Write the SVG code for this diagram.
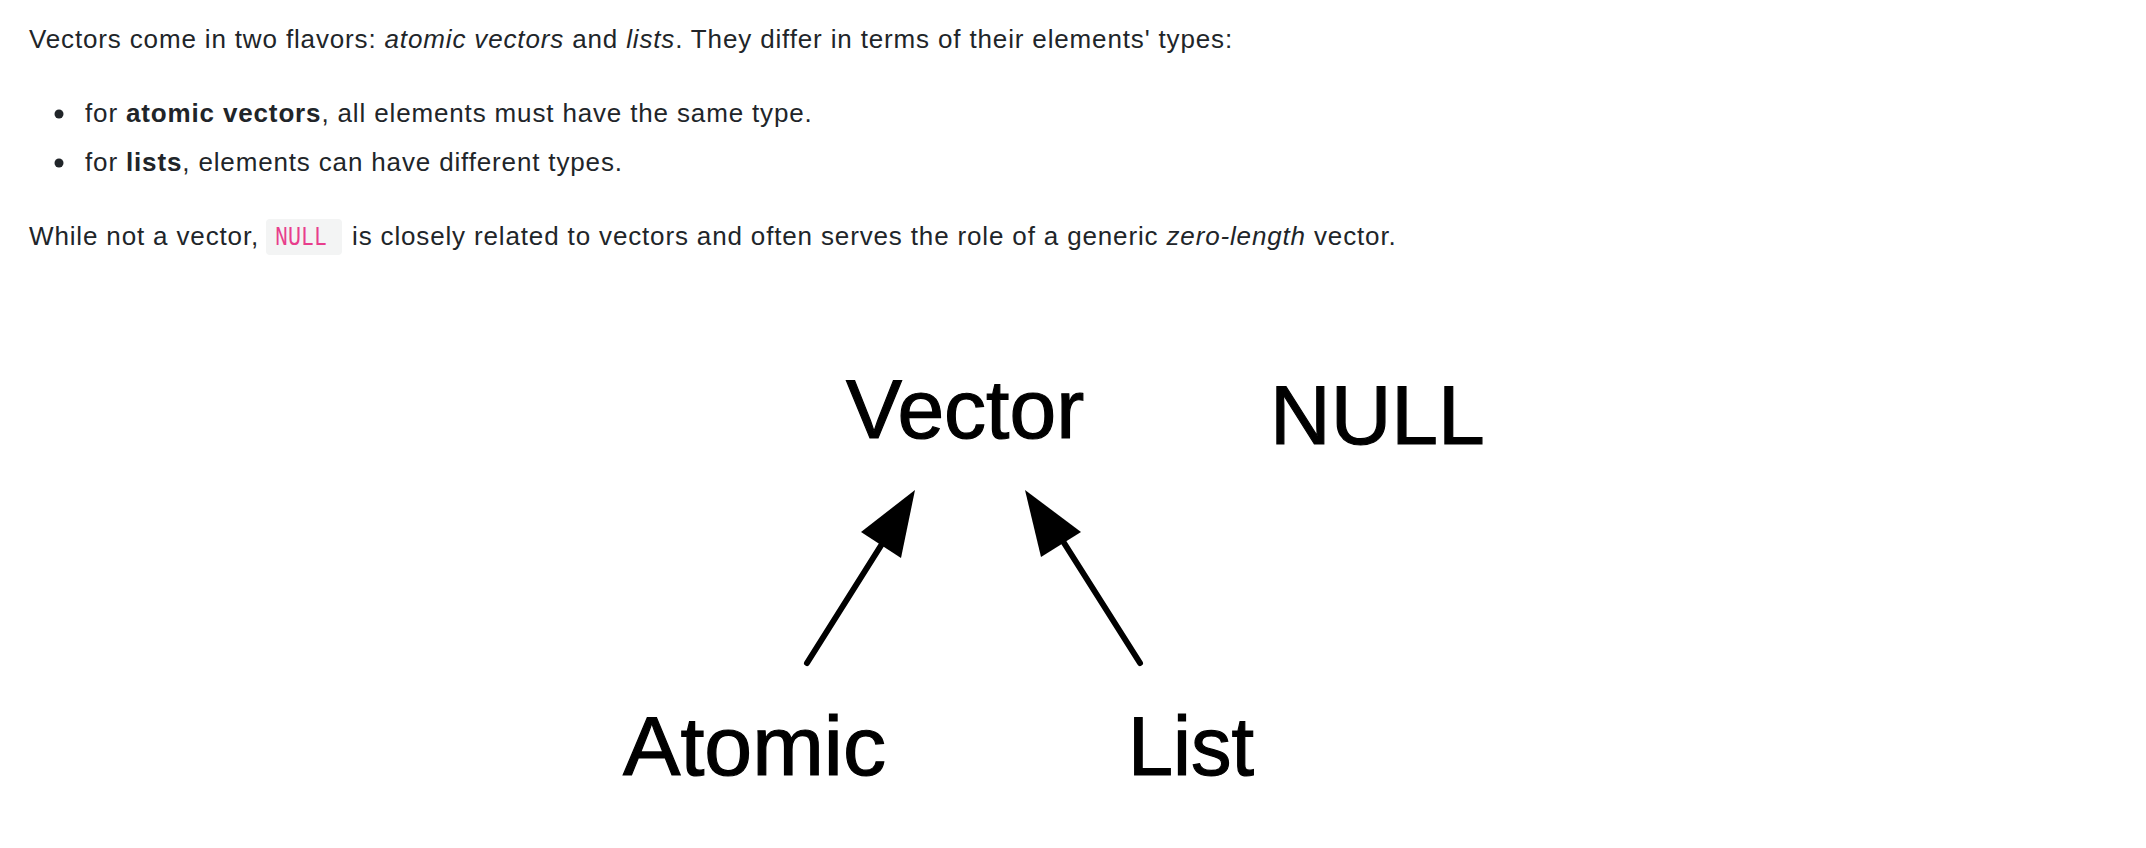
<svg xmlns="http://www.w3.org/2000/svg" width="2146" height="848" viewBox="0 0 2146 848">
<style>
.body{font-family:"Liberation Sans",Arial,sans-serif;font-size:26px;letter-spacing:0.85px;fill:#212529}
.b{font-weight:bold}
.i{font-style:italic}
.code{font-family:"Liberation Mono","DejaVu Sans Mono",monospace;font-size:27px;fill:#e83e8c}
.lbl{font-family:"Liberation Sans",Arial,sans-serif;font-size:84px;fill:#000;stroke:#000;stroke-width:1.2px}
.edge{stroke:#000;stroke-width:6;stroke-linecap:round;fill:none}
.head{fill:#000}
</style>
<rect width="2146" height="848" fill="#fff"/>
<g id="prose">
<text class="body" x="29" y="48">Vectors come in two flavors: <tspan class="i">atomic vectors</tspan> and <tspan class="i">lists</tspan>. They differ in terms of their elements' types:</text>
<circle cx="59" cy="114" r="4.5" fill="#212529"/>
<text class="body" x="85" y="122">for <tspan class="b">atomic vectors</tspan>, all elements must have the same type.</text>
<circle cx="59" cy="163" r="4.5" fill="#212529"/>
<text class="body" x="85" y="171">for <tspan class="b">lists</tspan>, elements can have different types.</text>
<text class="body" x="29" y="245">While not a vector,</text>
<rect x="266" y="219" width="76" height="36" rx="4" fill="#f3f4f4"/>
<text class="code" x="275" y="245" textLength="52" lengthAdjust="spacingAndGlyphs">NULL</text>
<text class="body" x="352" y="245">is closely related to vectors and often serves the role of a generic <tspan class="i">zero-length</tspan> vector.</text>
</g>
<g id="connectors">
<line class="edge" x1="807" y1="663" x2="887" y2="536"/>
<polygon class="head" points="915,490 861,532 901,558"/>
<line class="edge" x1="1140" y1="663" x2="1059" y2="535"/>
<polygon class="head" points="1025,490 1081,532 1041,557"/>
</g>
<g id="node-vector"><text class="lbl" x="846" y="438">Vector</text></g>
<g id="node-null"><text class="lbl" x="1270" y="444">NULL</text></g>
<g id="node-atomic"><text class="lbl" x="623" y="775" textLength="263" lengthAdjust="spacingAndGlyphs">Atomic</text></g>
<g id="node-list"><text class="lbl" x="1128" y="775" textLength="126" lengthAdjust="spacingAndGlyphs">List</text></g>
</svg>
